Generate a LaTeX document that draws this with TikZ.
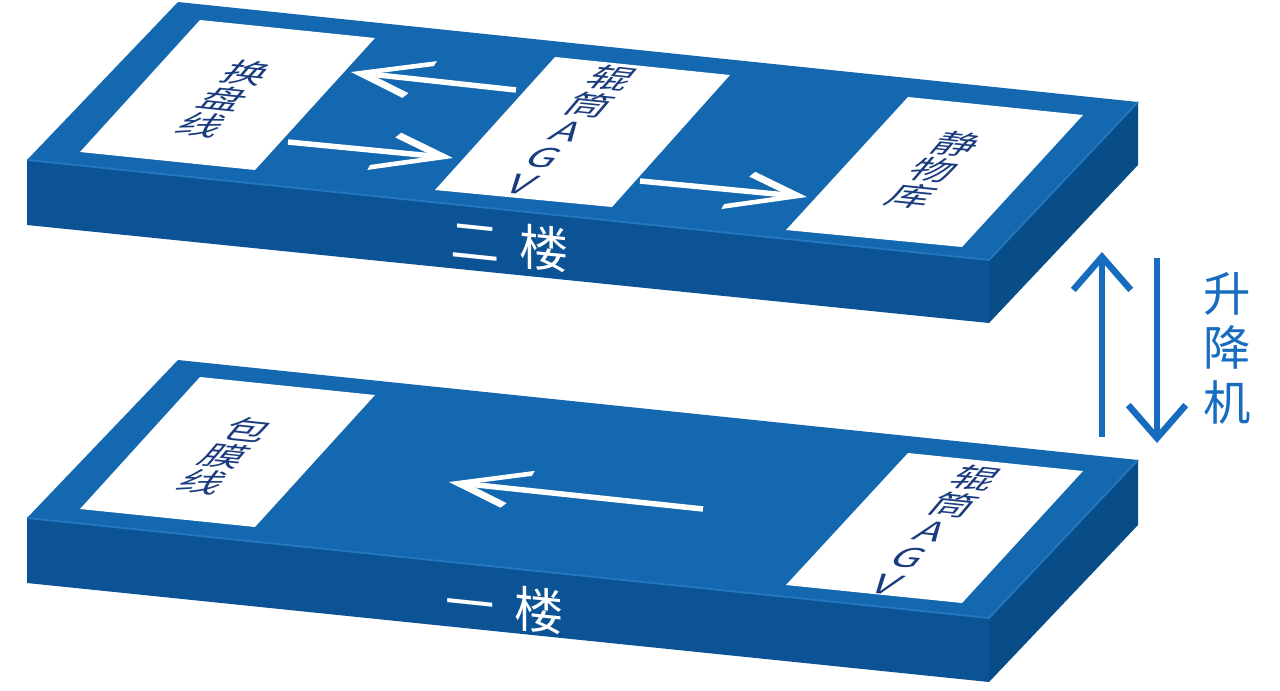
\documentclass[tikz,border=0pt]{standalone}
\usepackage{fontspec}
\setmainfont{Noto Sans CJK SC}
\usetikzlibrary{arrows.meta}
\definecolor{topblue}{RGB}{20,104,176}
\definecolor{frontblue}{RGB}{11,83,148}
\definecolor{sideblue}{RGB}{8,76,136}
\definecolor{edgeblue}{RGB}{36,120,192}
\definecolor{inkblue}{RGB}{26,60,126}
\definecolor{liftblue}{RGB}{24,108,192}

\begin{document}
\begin{tikzpicture}[x=0.02cm, y=-0.02cm,
    station/.style={fill=white},
    deck/.style={align=center, text=inkblue, font=\fontsize{24}{25}\selectfont, cm={1,-0.104,0.51,0.6,(0,0)}},
    floorname/.style={text=white, font=\fontsize{28}{32}\selectfont, cm={1,-0.104,0,1,(0,0)}},
    flow/.style={white, line width=0.11cm, -{Straight Barb[length=1.2cm, width=0.7cm, slant=0.75]}},
    liftarrow/.style={liftblue, line width=0.13cm, -{Straight Barb[length=0.66cm, width=1.15cm]}}]
        \fill[white] (0,0) rectangle (1280,690);
        \useasboundingbox (0,0) rectangle (1280,690);

        % second floor
        \fill[frontblue] (27,160) -- (989,260) -- (989,323) -- (27,225) -- cycle;
        \fill[sideblue] (989,260) -- (1138,102) -- (1138,165) -- (989,323) -- cycle;
        \fill[topblue] (178,2) -- (1138,102) -- (989,260) -- (27,160) -- cycle;
        \draw[edgeblue, line width=1pt] (27,160) -- (989,260) -- (1138,102);
        \fill[station] (200,20) -- (375,38) -- (255,170) -- (80,152) -- cycle;
        \fill[station] (555,57) -- (730,75) -- (612,207) -- (435,190) -- cycle;
        \fill[station] (908,97) -- (1083,115) -- (962,247) -- (786,230) -- cycle;

        % first floor
        \fill[frontblue] (27,518) -- (989,618) -- (989,682) -- (27,583) -- cycle;
        \fill[sideblue] (989,618) -- (1138,460) -- (1138,525) -- (989,682) -- cycle;
        \fill[topblue] (178,360) -- (1138,460) -- (989,618) -- (27,518) -- cycle;
        \draw[edgeblue, line width=1pt] (27,518) -- (989,618) -- (1138,460);
        \fill[station] (200,377) -- (375,395) -- (255,527) -- (80,509) -- cycle;
        \fill[station] (908,453) -- (1083,471) -- (962,603) -- (786,585) -- cycle;

        \node[deck] (pan) at (224,99) {换\\盘\\线};
        \node[deck] (agv2) at (568,130) {辊\\筒\\A\\G\\V};
        \node[deck] (store) at (934,170) {静\\物\\库};
        \node[deck] (wrap) at (225,456) {包\\膜\\线};
        \node[deck] (agv1) at (932,530) {辊\\筒\\A\\G\\V};

        \node[floorname] (floor2) at (510,245) {二\hspace{0.4cm}楼};
        \node[floorname] (floor1) at (505,607) {一\hspace{0.4cm}楼};
        \node[text=liftblue, font=\fontsize{27}{31}\selectfont, align=center] (lift) at (1227,348) {升\\降\\机};

        \coordinate (agv2-w) at (516,90);
        \coordinate (pan-in) at (351,72);
        \coordinate (pan-out) at (288,142);
        \coordinate (agv2-in) at (453,158);
        \coordinate (agv2-e) at (640,181);
        \coordinate (store-in) at (807,197);
        \coordinate (agv1-w) at (703,509);
        \coordinate (wrap-in) at (449,482);
        \coordinate (up-foot) at (1102,437);
        \coordinate (up-head) at (1102,252);
        \coordinate (down-foot) at (1157,258);
        \coordinate (down-head) at (1157,443);

        \draw[flow] (agv2-w) -- (pan-in);
        \draw[flow] (pan-out) -- (agv2-in);
        \draw[flow] (agv2-e) -- (store-in);
        \draw[flow] (agv1-w) -- (wrap-in);
        \draw[liftarrow] (up-foot) -- (up-head);
        \draw[liftarrow] (down-foot) -- (down-head);
    \end{tikzpicture}
\end{document}
